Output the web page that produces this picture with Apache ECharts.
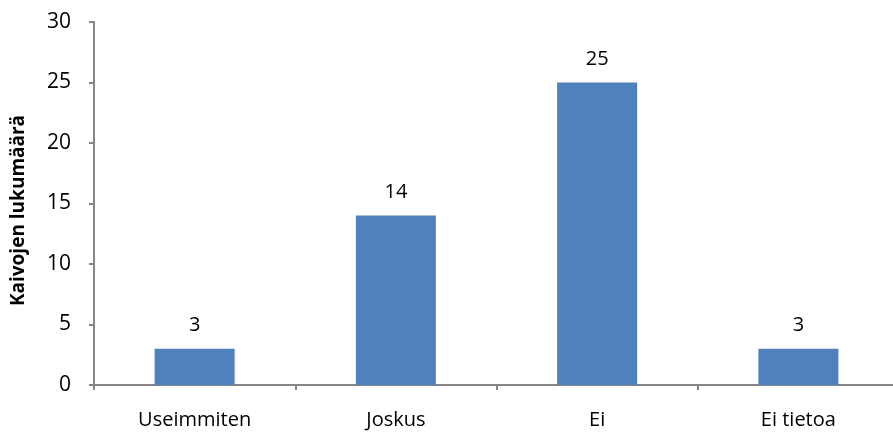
<!DOCTYPE html>
<html>
<head>
<meta charset="utf-8">
<script src="https://cdn.jsdelivr.net/npm/echarts@6/dist/echarts.min.js"></script>
<style>html,body{margin:0;padding:0;background:#fff}#c{width:893px;height:433px}</style>
</head>
<body>
<div id="c"></div>
<script>
var categories = ['Useimmiten', 'Joskus', 'Ei', 'Ei tietoa'];
var values = [3, 14, 25, 3];
var yTicks = [0, 5, 10, 15, 20, 25, 30];

var chart = echarts.init(document.getElementById('c'), null, {renderer: 'canvas'});
var font = '"Open Sans", "Noto Sans", sans-serif';
chart.setOption({
  animation: false,
  backgroundColor: '#ffffff',
  grid: {left: 94, width: 805, top: 22, bottom: 48, containLabel: false, outerBoundsMode: 'none'},
  xAxis: {
    type: 'category',
    data: categories,
    axisLine: {lineStyle: {color: '#868686', width: 2}},
    axisTick: {show: true, length: 5, alignWithLabel: false, lineStyle: {color: '#868686', width: 2}},
    axisLabel: {color: '#000', fontSize: 20, fontFamily: font, margin: 25}
  },
  yAxis: {
    type: 'value',
    min: yTicks[0],
    max: yTicks[yTicks.length - 1],
    interval: 5,
    name: 'Kaivojen lukumäärä',
    nameLocation: 'middle',
    nameGap: 66,
    nameTextStyle: {color: '#000', fontSize: 19, fontWeight: 'bold', fontFamily: font, padding: [0, 14, 0, 0]},
    axisLine: {show: true, lineStyle: {color: '#868686', width: 2}},
    axisTick: {show: true, length: 5, lineStyle: {color: '#868686', width: 2}},
    splitLine: {show: false},
    axisLabel: {color: '#000', fontSize: 21, fontFamily: font, margin: 23}
  },
  series: [{
    type: 'bar',
    data: values,
    barWidth: 80,
    itemStyle: {color: '#4f81bd'},
    label: {show: true, position: 'top', distance: 13, color: '#000', fontSize: 20, fontFamily: font}
  }]
});
</script>
</body>
</html>
